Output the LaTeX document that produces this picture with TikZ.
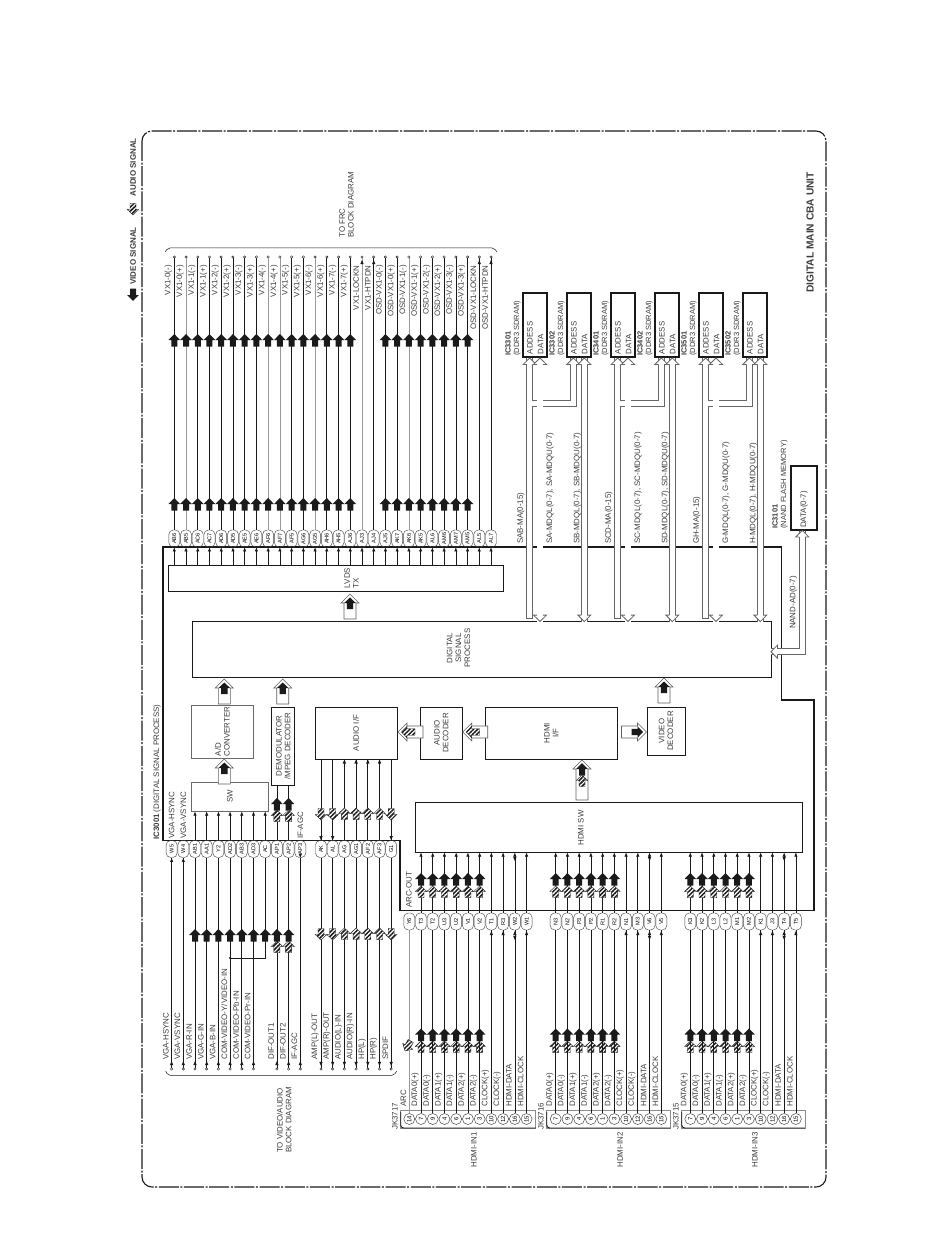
\documentclass[tikz,border=0pt]{standalone}
\usepackage{fontspec}
\setmainfont{Liberation Sans}
\usetikzlibrary{arrows.meta,patterns.meta}
\definecolor{ink}{HTML}{1A1A1A}
\newcommand{\drawshell}{\filldraw[draw=ink!70,fill=white,line width=.6pt] (0,0)--(9,9)--(6,9)--(6,25)--(-6,25)--(-6,9)--(-9,9)--cycle;}
\tikzset{
  hatchfill/.style={draw=ink,line width=.35pt,pattern={Lines[angle=45,distance=3pt,line width=1.5pt]},pattern color=ink},
  bigarrow/.pic={\fill[ink] (0,0)--(5.8,6)--(3,6)--(3,12.5)--(-3,12.5)--(-3,6)--(-5.8,6)--cycle;},
  hatcharrow/.pic={\fill[white] (0,0)--(5.8,5.5)--(3,5.5)--(3,11.5)--(-3,11.5)--(-3,5.5)--(-5.8,5.5)--cycle;
    \path[hatchfill] (0,0)--(5.8,5.5)--(3,5.5)--(3,11.5)--(-3,11.5)--(-3,5.5)--(-5.8,5.5)--cycle;},
  tipup/.pic={\fill[ink] (0,0)--(1.7,4.2)--(-1.7,4.2)--cycle;},
  videobox/.pic={\drawshell
    \fill[ink] (0,3.5)--(5.8,9)--(3.2,9)--(3.2,15)--(-3.2,15)--(-3.2,9)--(-5.8,9)--cycle;},
  audiobox/.pic={\drawshell
    \path[hatchfill] (0,3.5)--(5.8,9)--(3.2,9)--(3.2,17)--(-3.2,17)--(-3.2,9)--(-5.8,9)--cycle;},
  bushead/.pic={\fill[white] (0,0)--(6.5,6.4)--(-6.5,6.4)--cycle;
    \draw[draw=black!60,line width=.8pt] (2.9,6.4)--(6.5,6.4)--(0,0)--(-6.5,6.4)--(-2.9,6.4);},
}
\begin{document}
\begin{tikzpicture}[
    x=1pt,y=-1pt,
    line width=0.65pt,
    >=Latex,
    sigtip/.style={-{Latex[length=4.2pt,width=3.4pt]}},
    grayline/.style={draw=black!40},
    busline/.style={draw=black!60,line width=.85pt,double=white,double distance=5.2pt},
    padnode/.style={draw=ink!80,line width=.45pt,rectangle,rounded corners=4.5pt,rotate=90,minimum width=17pt,minimum height=11pt,inner sep=0pt,font=\fontsize{5.6}{5.6}\selectfont},
    pinnode/.style={draw=ink!80,line width=.5pt,circle,rotate=90,minimum size=11pt,inner sep=0pt,font=\fontsize{6}{6}\selectfont},
    termnode/.style={draw=ink,line width=.4pt,circle,fill=white,minimum size=2.4pt,inner sep=0pt},
    siglabel/.style={rotate=90,inner sep=0pt,font=\fontsize{7.9}{8.8}\selectfont,text=ink!85,align=left},
    blockbox/.style={draw=ink,line width=.75pt,rotate=90,inner sep=0pt,align=center,font=\fontsize{7.9}{8.8}\selectfont,text=ink!85},
    membox/.style={draw=ink,line width=1.7pt,rotate=90,inner sep=0pt,align=left,minimum width=64.5pt,minimum height=24pt,text width=58pt,font=\fontsize{7.9}{10.7}\selectfont,text=ink!85},
]
\useasboundingbox (0,0) rectangle (950,1241);
%====================================================
% FRAME AND LEGEND
%====================================================
\draw[line width=1.1pt,ink,rounded corners=10pt,dash pattern=on 20pt off 1.6pt on 2pt off 1.6pt] (142,131) rectangle (826,1187);
\node[siglabel,anchor=east,font=\fontsize{8}{10}\bfseries] (videolegend) at (133,227) {VIDEO SIGNAL};
\node[siglabel,anchor=east,font=\fontsize{8}{10}\bfseries] (audiolegend) at (133,138) {AUDIO SIGNAL};
\pic[rotate=180] at (133,301) {bigarrow};
\pic[rotate=180] at (133,215) {hatcharrow};
\node[siglabel,anchor=west,font=\fontsize{10.2}{11}\bfseries] (unitlabel) at (810,293) {DIGITAL MAIN CBA UNIT};

%====================================================
% IC3001 OUTLINE AND BLOCKS
%====================================================
\draw[line width=1.2pt,ink] (163,547) -- (781.5,547) -- (781.5,700) -- (814,700) -- (814,910.7) -- (400,910.7) -- (400,840.5) -- (163,840.5) -- cycle;
\node[siglabel,anchor=west] (iclabel) at (157,840) {\textbf{IC3001} (DIGITAL SIGNAL PROCESS)};

\node[blockbox,minimum width=26pt,minimum height=335pt] (lvds) at (335.5,578) {};
\node[siglabel] (lvdslab) at (351.5,578) {LVDS\\TX};
\node[blockbox,minimum width=56pt,minimum height=579pt] (dsp) at (481.5,649) {};
\node[siglabel,align=center] (dsplab) at (458.5,648) {DIGITAL\\SIGNAL\\PROCESS};
\node[blockbox,draw=ink!65,minimum width=53pt,minimum height=61.5pt,align=left] (adc) at (222.5,731.5) {A/D\\CONVERTER};
\node[blockbox,draw=ink!65,minimum width=29pt,minimum height=76.5pt] (sw) at (230,796.5) {SW};
\node[blockbox,minimum width=78pt,minimum height=23pt] (demod) at (283.2,746) {DEMODULATOR\\/MPEG DECODER};
\node[blockbox,minimum width=52pt,minimum height=82pt] (audioif) at (356,733) {AUDIO I/F};
\node[blockbox,minimum width=52pt,minimum height=42.5pt] (audiodec) at (441.3,733) {AUDIO\\DECODER};
\node[blockbox,minimum width=52pt,minimum height=132.5pt] (hdmiif) at (551.3,733) {HDMI\\I/F};
\node[blockbox,minimum width=48pt,minimum height=38pt] (videodec) at (666,731) {VIDEO\\DECODER};
\node[blockbox,minimum width=50pt,minimum height=387pt] (hdmisw) at (608.5,827) {};
\node[siglabel] (hdmiswlab) at (581,828) {HDMI SW};

\pic at (350,594) {videobox};
\pic at (224.3,679) {videobox};
\pic at (282.7,679) {videobox};
\pic at (224.3,759) {videobox};
\pic at (664,678) {videobox};
\pic[rotate=-90] at (646.5,732) {videobox};
\pic[rotate=90] at (462.7,732) {audiobox};
\pic[rotate=90] at (398,732) {audiobox};
% long arrow from the switch, black over hatched
\filldraw[draw=ink!70,fill=white,line width=.6pt] (582,760)--(591,769)--(588,769)--(588,800)--(576,800)--(576,769)--(573,769)--cycle;
\pic at (582,763) {bigarrow};
\pic at (582,775) {hatcharrow};

%====================================================
% TO FRC
%====================================================
\foreach \pad [count=\i from 0] in {AB6,AB5,AC6,AC7,AD6,AD5,AE5,AE6,AF6,AF7,AF5,AG6,AG5,AH6,AH5,AJ6,AJ3,AJ4,AJ5,AK7,AK6,AK5,AL6,AM6,AM7,AM5,AL5,AL7}
{
    \pgfmathsetmacro{\xx}{174.3+\i*11.73}
    \node[padnode] (tp\i) at (\xx,538.5) {\pad};
    \node[termnode] (tt\i) at (\xx,257) {};
    \draw[ink] (tp\i.east) -- (tt\i);
    \draw[ink,sigtip] (tp\i.west |- lvds.east) -- (tp\i.west);
}
\foreach \i in {1,8,9,12,16,20}
{
    \draw[grayline] (tp\i.east) -- (tt\i);
}
\foreach \i in {0,...,15}
{
    \pgfmathsetmacro{\xx}{174.3+\i*11.73}
    \pic at (\xx,334) {bigarrow};
    \pic at (\xx,498) {bigarrow};
}
\foreach \i in {18,...,25}
{
    \pgfmathsetmacro{\xx}{174.3+\i*11.73}
    \pic at (\xx,334) {bigarrow};
    \pic at (\xx,498) {bigarrow};
}
\foreach \i in {16,17,26,27}
{
    \pgfmathsetmacro{\xx}{174.3+\i*11.73}
    \pic at (\xx,260) {tipup};
}
\foreach \lab [count=\i from 0] in {VX1-0(-),VX1-0(+),VX1-1(-),VX1-1(+),VX1-2(-),VX1-2(+),VX1-3(-),VX1-3(+),VX1-4(-),VX1-4(+),VX1-5(-),VX1-5(+),VX1-6(-),VX1-6(+),VX1-7(-),VX1-7(+),VX1-LOCKN,VX1-HTPDN,OSD-VX1-0(-),OSD-VX1-0(+),OSD-VX1-1(-),OSD-VX1-1(+),OSD-VX1-2(-),OSD-VX1-2(+),OSD-VX1-3(-),OSD-VX1-3(+),OSD-VX1-LOCKN,OSD-VX1-HTPDN}
{
    \pgfmathsetmacro{\xx}{168.4+\i*11.73}
    \node[siglabel,anchor=east] (tl\i) at (\xx,265) {\lab};
}
\draw[ink,line width=.5pt,rounded corners=2pt] (165,252) -- (168,248) -- (494,248) -- (497,252);
\node[siglabel,anchor=west] (frclabel) at (346.5,238) {TO FRC\\BLOCK DIAGRAM};

%====================================================
% TO VIDEO/AUDIO
%====================================================
\foreach \pad [count=\i from 0] in {W5,W4,AB1,AA1,Y2,AD2,AB3,AD3,AC,AP1,AP2,AP3}
{
    \pgfmathsetmacro{\xx}{171.6+\i*11.7}
    \node[padnode] (lp\i) at (\xx,849) {\pad};
}
\foreach \pad [count=\i from 0] in {AK,AL,AG,AG1,AF2,AF3,G1}
{
    \pgfmathsetmacro{\xx}{321+\i*11.7}
    \node[padnode] (ap\i) at (\xx,849) {\pad};
    \node[termnode] (at\i) at (\xx,1069) {};
    \draw[ink] (ap\i.west) -- (at\i);
    \draw[ink] (ap\i.east) -- (ap\i.east |- audioif.west);
    \pic[rotate=180] at (\xx,1066) {tipup};
}
\foreach \i in {0,1,2,3,4,5,6,7,9,10,11}
{
    \pgfmathsetmacro{\xx}{171.6+\i*11.7}
    \node[termnode] (lt\i) at (\xx,1069) {};
    \draw[ink] (lp\i.west) -- (lt\i);
    \pic at (\xx,1061) {tipup};
}
\foreach \i in {0,1}
{
    \draw[ink,sigtip] (lt\i) -- (lp\i.west);
}
\coordinate (comjoin) at (230.1,958);
\fill[ink] (comjoin) circle (1.2pt);
\draw[ink] (lp8.west) |- (comjoin);
\pic[rotate=180] at (lp11.west) {tipup};
\foreach \i in {2,...,8}
{
    \draw[ink,sigtip] (lp\i.east) -- (lp\i.east |- sw.west);
}
\foreach \i in {9,10}
{
    \draw[ink] (lp\i.east) -- (lp\i.east |- demod.west);
    \pic at (lp\i.west |- 0,798) {bigarrow};
    \pic at (lp\i.west |- 0,810) {hatcharrow};
    \pic at (lp\i.west |- 0,941) {hatcharrow};
}
\foreach \i in {2,...,10}
{
    \pic at (lp\i.west |- 0,929) {bigarrow};
}
\foreach \i in {2,3,4,5}
{
    \pic at (ap\i.east |- audioif.west) {tipup};
    \pic at (ap\i.west |- 0,808) {hatcharrow};
    \pic at (ap\i.west |- 0,928) {hatcharrow};
}
\foreach \i in {0,1,6}
{
    \pic[rotate=180] at (ap\i.east) {tipup};
    \pic[rotate=180] at (ap\i.west |- 0,820) {hatcharrow};
    \pic[rotate=180] at (ap\i.west |- 0,940) {hatcharrow};
}
\foreach \i/\lab in {0/VGA-HSYNC,1/VGA-VSYNC,2/VGA-R-IN,3/VGA-G-IN,4/VGA-B-IN,5/{COM-VIDEO-Y/VIDEO-IN},6/COM-VIDEO-Pb-IN,7/COM-VIDEO-Pr-IN,9/DIF-OUT1,10/DIF-OUT2,11/IF-AGC}
{
    \pgfmathsetmacro{\xx}{165.8+\i*11.7}
    \node[siglabel,anchor=west] (ll\i) at (\xx,1060) {\lab};
}
\foreach \lab [count=\i from 0] in {AMP(L)-OUT,AMP(R)-OUT,AUDIO(L)-IN,AUDIO(R)-IN,HP(L),HP(R),SPDIF}
{
    \pgfmathsetmacro{\xx}{315.2+\i*11.7}
    \node[siglabel,anchor=west] (al\i) at (\xx,1060) {\lab};
}
\node[siglabel,anchor=west] (vgah) at (171.7,839) {VGA-HSYNC};
\node[siglabel,anchor=west] (vgav) at (183.3,839) {VGA-VSYNC};
\node[siglabel,anchor=west] (ifagc) at (300.3,839) {IF-AGC};
\draw[ink,line width=.5pt,rounded corners=2pt] (165.7,1071) -- (168,1075.3) -- (394,1075.3) -- (396.7,1071);
\node[siglabel,anchor=center] (avlabel) at (284.2,1120) {TO VIDEO/AUDIO\\BLOCK DIAGRAM};

%====================================================
% HDMI INPUTS
%====================================================
\foreach \g/\gx/\gpads/\jk/\jkl/\hin in {a/421/{T3,T2,U3,U2,V1,V2,T1,R3,W2,W1}/JK3717/400.7/HDMI-IN1,
    b/555.7/{N3,N2,P3,P2,R1,R2,N1,M3,V6,V5}/JK3716/546.7/HDMI-IN2,
    c/690.3/{K3,K2,L3,L2,M1,M2,K1,J3,T4,T5}/JK3715/681.7/HDMI-IN3}
{
    \draw[draw=black!45,line width=.5pt] (\jkl,1110) rectangle ({\gx+114.6},1128);
    \draw[ink,line width=.9pt,rounded corners=3pt] (\jkl,1112) |- ({\gx+114.6},1128);
    \foreach \pad [count=\i from 0] in \gpads
    {
        \pgfmathsetmacro{\xx}{\gx+\i*11.73}
        \node[padnode] (hp\g\i) at (\xx,921.5) {\pad};
        \draw[ink,sigtip] (hp\g\i.east) -- (hp\g\i.east |- hdmisw.west);
        \ifnum\i<6
            \pic at (\xx,873) {bigarrow};
            \pic at (\xx,886) {hatcharrow};
            \pic at (\xx,1028.5) {bigarrow};
            \pic at (\xx,1041) {hatcharrow};
        \else
            \ifnum\i=8
                \pic at (\xx,931) {tipup};
                \pic[rotate=180] at (\xx,940) {tipup};
                \pic[rotate=180] at (\xx,861) {tipup};
            \else
                \pic at (\xx,931) {tipup};
            \fi
        \fi
    }
    \foreach \pin [count=\i from 0] in {7,9,4,6,1,3,10,12,16,15}
    {
        \pgfmathsetmacro{\xx}{\gx+\i*11.73}
        \node[pinnode] (hc\g\i) at (\xx,1119) {\pin};
        \draw[ink] (hp\g\i.west) -- (hc\g\i.east);
    }
    \foreach \lab [count=\i from 0] in {DATA0(+),DATA0(-),DATA1(+),DATA1(-),DATA2(+),DATA2(-),CLOCK(+),CLOCK(-),HDMI-DATA,HDMI-CLOCK}
    {
        \pgfmathsetmacro{\xx}{\gx-6+\i*11.73}
        \node[siglabel,anchor=west] (hl\g\i) at (\xx,1107) {\lab};
    }
    \node[siglabel,anchor=west] (jk\g) at ({\jkl-5.7},1130) {\jk};
    \node[siglabel] (hin\g) at ({\jkl+73.3},1150) {\hin};
}
\node[padnode] (arcpad) at (409.3,921.5) {Y6};
\node[pinnode] (arcpin) at (409.3,1119) {14};
\draw[grayline] (arcpad.west) -- (arcpin.east);
\pic[rotate=150] at (405,1051) {hatcharrow};
\node[siglabel,anchor=west] (arclabel) at (403.3,1107) {ARC};
\node[siglabel,anchor=west] (arcout) at (409,908) {ARC-OUT};

%====================================================
% MEMORIES
%====================================================
\foreach \ic/\bx in {IC3301/535.3,IC3302/579.3,IC3401/623.3,IC3402/667.3,IC3501/711.3,IC3502/755.3}
{
    \node[membox] (\ic) at (\bx,325) {ADDESS\\DATA};
    \node[siglabel,anchor=west,font=\fontsize{7.5}{8.3}\selectfont] (\ic lab) at ({\bx-22.3},356) {\textbf{\ic}\\(DDR3 SDRAM)};
}
\foreach \n/\ax/\ma/\mb/\mc in {1/529.7/SAB-MA(0-15)/{SA-MDQL(0-7), SA-MDQU(0-7)}/{SB-MDQL(0-7), SB-MDQU(0-7)},
    2/617.7/SCD-MA(0-15)/{SC-MDQL(0-7), SC-MDQU(0-7)}/{SD-MDQL(0-7), SD-MDQU(0-7)},
    3/705.7/GH-MA(0-15)/{G-MDQL(0-7), G-MDQU(0-7)}/{H-MDQL(0-7), H-MDQU(0-7)}}
{
    \pgfmathsetmacro{\bbx}{\ax+43.6}
    \pgfmathsetmacro{\dax}{\ax+10.3}
    \pgfmathsetmacro{\dbx}{\ax+54.6}
    \coordinate (addrtop\n) at (\ax,358);
    \coordinate (addrend\n) at (\ax,618.3);
    \coordinate (addrjoin\n) at (\ax,403.7);
    \coordinate (addrbend\n) at (\bbx,403.7);
    \coordinate (addrnext\n) at (\bbx,358);
    \coordinate (dataatop\n) at (\dax,358);
    \coordinate (dataaend\n) at (\dax,621.5);
    \coordinate (databtop\n) at (\dbx,358);
    \coordinate (databend\n) at (\dbx,621.5);
    \draw[busline] (addrjoin\n) -- (addrbend\n) -- (addrnext\n);
    \draw[busline] (addrend\n) -- (addrtop\n);
    \draw[white,line width=5.2pt] (addrjoin\n) -- ++(4.5,0);
    \draw[draw=black!60,line width=.85pt] ([xshift=-3.4pt]addrend\n) -- ([xshift=3.4pt]addrend\n);
    \draw[busline] (dataaend\n) -- (dataatop\n);
    \draw[busline] (databend\n) -- (databtop\n);
    \pic at (addrtop\n) {bushead};
    \pic at (addrnext\n) {bushead};
    \pic at (dataatop\n) {bushead};
    \pic at (databtop\n) {bushead};
    \pic[rotate=180] at (dataaend\n) {bushead};
    \pic[rotate=180] at (databend\n) {bushead};
    \node[siglabel,anchor=west] (mal\n) at ({\ax-9},544.3) {\ma};
    \node[siglabel,anchor=west] (mbl\n) at ({\ax+20.3},544.3) {\mb};
    \node[siglabel,anchor=west] (mcl\n) at ({\ax+47.6},544.3) {\mc};
}
\node[membox,text width=60pt,minimum width=64.3pt,minimum height=26.6pt] (ic3101) at (804,497.8) {DATA(0-7)};
\node[siglabel,anchor=west,font=\fontsize{7.5}{8.3}\selectfont] (ic3101lab) at (780,529) {\textbf{IC3101}\\(NAND FLASH MEMORY)};
\coordinate (nandtop) at (802.3,530.5);
\coordinate (nandbend) at (802.3,651.7);
\coordinate (nandend) at (771,651.7);
\draw[busline] (nandtop) -- (nandbend) -- (nandend);
\pic at (nandtop) {bushead};
\pic[rotate=90] at (nandend) {bushead};
\node[siglabel,anchor=west] (nandlab) at (793.3,629.3) {NAND-AD(0-7)};
\end{tikzpicture}
\end{document}
